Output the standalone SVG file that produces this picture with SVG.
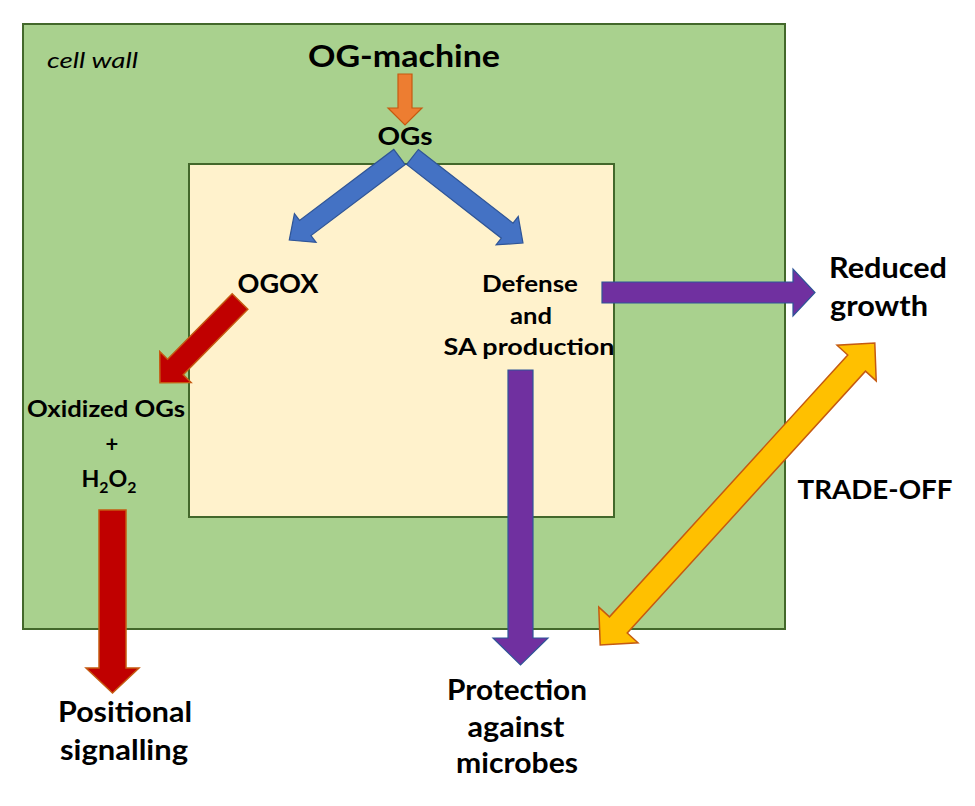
<svg xmlns="http://www.w3.org/2000/svg" width="975" height="806" viewBox="0 0 975 806">
<style>
text{font-family:Lato,"Open Sans","Liberation Sans",sans-serif;font-weight:bold;fill:#000;text-anchor:middle}
.wall{fill:#A9D18E;stroke:#43682B;stroke-width:2}
.cell{fill:#FFF2CC;stroke:#43682B;stroke-width:2}
.orange{fill:#ED7D31;stroke:#C55A11;stroke-width:1.2}
.blue{fill:#4472C4;stroke:#2F5597;stroke-width:1.2}
.red{fill:#C00000;stroke:#C55A11;stroke-width:1.5}
.purple{fill:#7030A0;stroke:#2F5597;stroke-width:1.2}
.yellow{fill:#FFC000;stroke:#C55A11;stroke-width:1.5}
</style>
<rect width="975" height="806" fill="#fff"/>
<g id="cell-wall">
<rect class="wall" x="23" y="24" width="762" height="605"/>
<text x="47" y="68" style="font-style:italic;font-weight:normal;text-anchor:start" font-size="22" textLength="91" lengthAdjust="spacingAndGlyphs">cell wall</text>
</g>
<g id="cell">
<rect class="cell" x="189" y="164" width="425" height="353"/>
</g>
<g id="og-machine"><text x="404" y="67" font-size="30" textLength="192" lengthAdjust="spacingAndGlyphs">OG-machine</text></g>
<g id="ogs"><text x="405" y="145" font-size="25" textLength="55" lengthAdjust="spacingAndGlyphs">OGs</text></g>
<g id="ogox"><text x="278" y="293" font-size="27" textLength="81" lengthAdjust="spacingAndGlyphs">OGOX</text></g>
<g id="oxidized">
<text x="106" y="417" font-size="22" textLength="158" lengthAdjust="spacingAndGlyphs">Oxidized OGs</text>
<text x="112" y="452" font-size="22">+</text>
<text x="109" y="487" font-size="22" textLength="55" lengthAdjust="spacingAndGlyphs">H<tspan font-size="15" dy="6">2</tspan><tspan dy="-6">O</tspan><tspan font-size="15" dy="6">2</tspan></text>
</g>
<g id="defense">
<text x="530" y="292" font-size="22" textLength="96" lengthAdjust="spacingAndGlyphs">Defense</text>
<text x="531" y="324" font-size="22" textLength="42" lengthAdjust="spacingAndGlyphs">and</text>
<text x="529" y="355" font-size="22" textLength="171" lengthAdjust="spacingAndGlyphs">SA production</text>
</g>
<g id="reduced-growth">
<text x="888" y="278" font-size="28" textLength="118" lengthAdjust="spacingAndGlyphs">Reduced</text>
<text x="879" y="316" font-size="28" textLength="98" lengthAdjust="spacingAndGlyphs">growth</text>
</g>
<g id="trade-off"><text x="875" y="499" font-size="27" textLength="155" lengthAdjust="spacingAndGlyphs">TRADE-OFF</text></g>
<g id="positional">
<text x="125" y="722" font-size="28" textLength="134" lengthAdjust="spacingAndGlyphs">Positional</text>
<text x="124" y="760" font-size="28" textLength="128" lengthAdjust="spacingAndGlyphs">signalling</text>
</g>
<g id="protection">
<text x="517" y="700" font-size="28" textLength="140" lengthAdjust="spacingAndGlyphs">Protection</text>
<text x="516" y="737" font-size="28" textLength="97" lengthAdjust="spacingAndGlyphs">against</text>
<text x="517" y="773" font-size="28" textLength="122" lengthAdjust="spacingAndGlyphs">microbes</text>
</g>
<g id="connectors">
<polygon class="orange" points="398,74 412,74 412,108 422,108 405,125 388,108 398,108"/>
<polygon class="blue" transform="translate(399.5,157) rotate(143)" points="0,-9.5 118,-9.5 118,-18 138,0 118,18 118,9.5 0,9.5"/>
<polygon class="blue" transform="translate(412.5,157) rotate(37.9)" points="0,-9.5 120,-9.5 120,-18 140,0 120,18 120,9.5 0,9.5"/>
<polygon class="red" transform="translate(240,301.5) rotate(134.6)" points="0,-11 92,-11 92,-22 114,0 92,22 92,11 0,11"/>
<polygon class="red" points="99,510 126,510 126,668 139,668 112.5,693 86,668 99,668"/>
<polygon class="purple" points="602,282 793,282 793,269 815,292.5 793,316 793,303 602,303"/>
<polygon class="purple" points="508,370 533,370 533,638 548,638 520.5,665 493,638 508,638"/>
<polygon class="yellow" transform="translate(737.5,494) rotate(-47.7)" points="-204,0 -177,-26.5 -177,-12 177,-12 177,-26.5 204,0 177,26.5 177,12 -177,12 -177,26.5"/>
</g>
</svg>
